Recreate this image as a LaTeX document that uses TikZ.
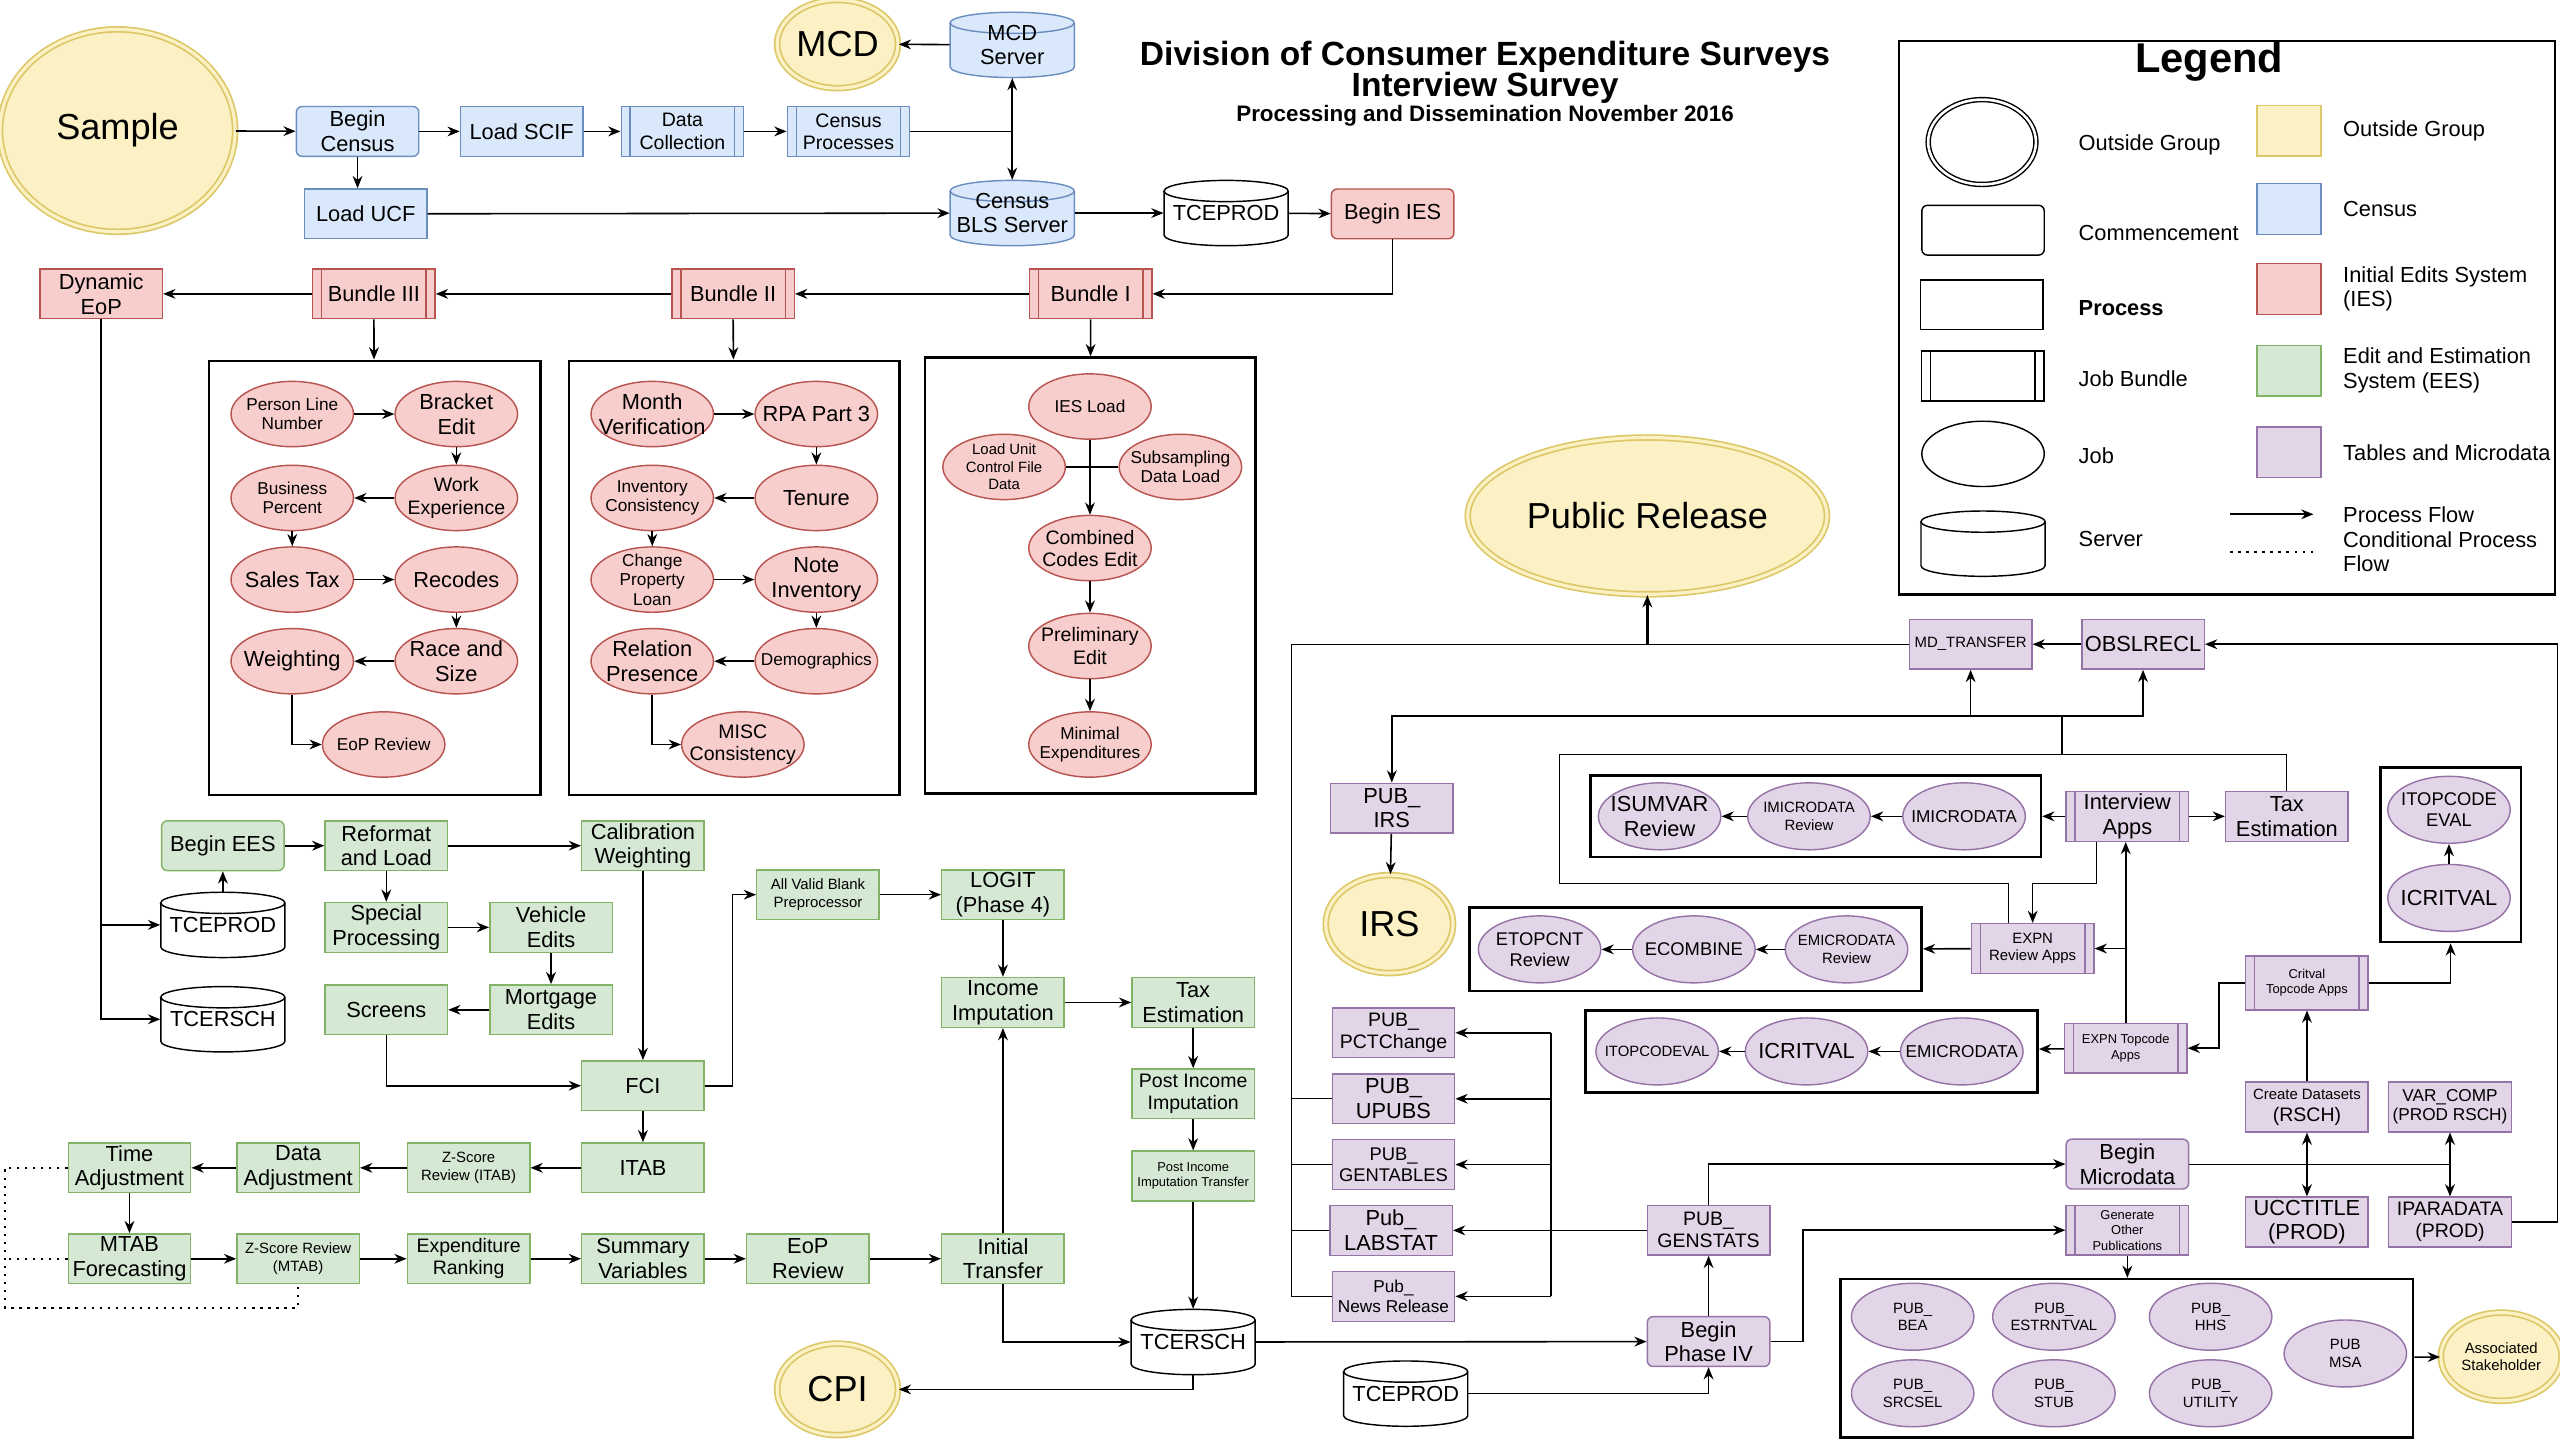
\documentclass[tikz,border=0pt]{standalone}
\usepackage{fontspec}
\setmainfont{Liberation Sans}
\usetikzlibrary{arrows.meta,shapes.geometric,calc}
\definecolor{fillout}{HTML}{FCF1C4}
\definecolor{lineout}{HTML}{DCC868}
\definecolor{fillcen}{HTML}{DAE8FC}
\definecolor{linecen}{HTML}{6C8EBF}
\definecolor{fillies}{HTML}{F8CECC}
\definecolor{lineies}{HTML}{B85450}
\definecolor{fillees}{HTML}{D5E8D4}
\definecolor{lineees}{HTML}{82B366}
\definecolor{fillpub}{HTML}{E1D5E7}
\definecolor{linepub}{HTML}{9673A6}
\newcommand{\fs}[2]{\fontsize{#1}{#2}\selectfont}
\tikzset{
  box/.style={rectangle, draw, line width=0.5pt, minimum width=15mm, minimum height=6.1mm, inner sep=0.4pt, align=center},
  start/.style={box, rounded corners=2pt},
  bndl/.style={box, path picture={\draw[#1, line width=0.5pt]
      ([xshift=1.1mm]path picture bounding box.north west) -- ([xshift=1.1mm]path picture bounding box.south west)
      ([xshift=-1.1mm]path picture bounding box.north east) -- ([xshift=-1.1mm]path picture bounding box.south east);}},
  job/.style={ellipse, draw, line width=0.5pt, minimum width=15mm, minimum height=8mm, inner xsep=-2mm, inner ysep=-2.5mm, align=center},
  outside/.style={ellipse, draw=lineout, double=fillout, double distance=1.1pt, line width=0.6pt, fill=fillout, inner sep=0pt, align=center},
  grp/.style={rectangle, draw, line width=0.9pt, inner sep=0pt},
  srvnode/.style={rectangle, minimum width=15.2mm, minimum height=8mm, inner sep=0pt, align=center},
  plain/.style={fill=white, draw=black},
  census/.style={fill=fillcen, draw=linecen},
  ies/.style={fill=fillies, draw=lineies},
  ees/.style={fill=fillees, draw=lineees},
  pub/.style={fill=fillpub, draw=linepub},
  flow/.style={-{Stealth[length=1.5mm,width=1.2mm]}, line width=0.55pt},
  cond/.style={dotted, line width=0.8pt},
  t8/.style={font=\fs{7.6}{8.6}},
  t7/.style={font=\fs{6.8}{7.7}},
  t65/.style={font=\fs{6.4}{7.2}},
  t6/.style={font=\fs{6}{6.8}},
  t5/.style={font=\fs{5.2}{6.1}},
  t4/.style={font=\fs{4.5}{5.4}},
  big/.style={font=\fs{12.6}{14}},
}
% server drawn as a cylinder behind a named node
\newcommand{\srv}[4]{%
  \path[#3, line width=0.5pt] ($(#2)+(-38,13.5)$) -- ($(#2)+(-38,-13.5)$)
    arc[start angle=180, end angle=360, x radius=7.6mm, y radius=1.3mm] -- ($(#2)+(38,13.5)$)
    arc[start angle=0, end angle=180, x radius=7.6mm, y radius=1.3mm] -- cycle;
  \draw[#3, fill=none, line width=0.5pt] ($(#2)+(-38,13.5)$) arc[start angle=180, end angle=360, x radius=7.6mm, y radius=1.3mm];
  \node[srvnode] (#1) at (#2) {#4};}

\begin{document}
\begin{tikzpicture}[x=0.2mm, y=0.2mm, t8]
  \useasboundingbox (0,0) rectangle (1568,-882);

  \node[font=\fs{11.7}{11}\bfseries, align=center] (title) at (909.6,-44.3) {Division of Consumer Expenditure Surveys\\Interview Survey};
  \node[font=\fs{7.8}{9}\bfseries] (subtitle) at (909.6,-71) {Processing and Dissemination November 2016};

  % census
  \node[outside, minimum width=28.8mm, minimum height=24.8mm, big] (sample) at (72,-80) {Sample};
  \node[start, census] (bcensus) at (219,-80.5) {Begin\\Census};
  \node[box, census] (scif) at (319.5,-80.5) {Load SCIF};
  \node[bndl=linecen, census, t7] (dcoll) at (418,-80.5) {Data\\Collection};
  \node[bndl=linecen, census, t7] (cproc) at (519.7,-80.5) {Census\\Processes};
  \node[outside, minimum width=14.8mm, minimum height=10.8mm, big] (mcd) at (513,-27) {MCD};
  \srv{mcds}{620,-27.5}{census}{MCD\\Server}
  \srv{blss}{620,-130.5}{census}{Census\\BLS Server}
  \node[box, census] (ucf) at (224,-131) {Load UCF};
  \srv{tcep1}{751,-130.5}{plain}{TCEPROD}
  \node[start, ies] (bies) at (853,-131) {Begin IES};

  % IES bundles
  \node[box, ies] (deop) at (62,-180) {Dynamic\\EoP};
  \node[bndl=lineies, ies] (b3) at (229,-180) {Bundle III};
  \node[bndl=lineies, ies] (b2) at (449,-180) {Bundle II};
  \node[bndl=lineies, ies] (b1) at (668,-180) {Bundle I};
  \node[grp, minimum width=40.6mm, minimum height=53.2mm] (g3) at (229.4,-354) {};
  \node[grp, minimum width=40.5mm, minimum height=53.2mm] (g2) at (449.8,-354) {};
  \node[grp, minimum width=40.5mm, minimum height=53.4mm] (g1) at (667.9,-352.5) {};
  \foreach \nm/\xx/\yy/\ft/\txt in {
      pln/179/253.6/t6/{Person Line\\Number}, brk/279.5/253.6/t8/{Bracket\\Edit},
      wexp/279.5/305/t7/{Work\\Experience}, bper/179/305/t6/{Business\\Percent},
      stax/179/355/t8/{Sales Tax}, rec/279.5/355/t8/{Recodes},
      race/279.5/405/t8/{Race and\\Size}, wgt/179/405/t8/{Weighting},
      eopr/235/456/t6/{EoP Review},
      month/399.5/253.6/t8/{Month\\Verification}, rpa/500/253.6/t8/{RPA Part 3},
      ten/500/305/t8/{Tenure}, invc/399.5/305/t6/{Inventory\\Consistency},
      cpl/399.5/355/t6/{Change\\Property\\Loan}, note/500/355/t8/{Note\\Inventory},
      demo/500/405/t6/{Demographics}, rel/399.5/405/t8/{Relation\\Presence},
      misc/455/456/t7/{MISC\\Consistency},
      iesl/667.6/249/t6/{IES Load}, lucf/615/286/t5/{Load Unit\\Control File\\Data},
      sub/723/286/t6/{Subsampling\\Data Load}, cce/667.6/335.7/t7/{Combined\\Codes Edit},
      pre/667.6/395.7/t7/{Preliminary\\Edit}, minx/667.6/456/t6/{Minimal\\Expenditures}}
    \node[job, ies, \ft] (\nm) at (\xx,-\yy) {\txt};

  % EES
  \node[start, ees] (bees) at (136.5,-518) {Begin EES};
  \srv{tcep2}{136.5,-566.5}{plain}{TCEPROD}
  \srv{tcer1}{136.5,-624.3}{plain}{TCERSCH}
  \foreach \nm/\xx/\yy/\ft/\txt in {
      ref/236.6/518/t8/{Reformat\\and Load}, cal/393.8/518/t8/{Calibration\\Weighting},
      spec/236.6/568/t8/{Special\\Processing}, veh/337.5/568/t8/{Vehicle\\Edits},
      mort/337.5/618.5/t8/{Mortgage\\Edits}, scr/236.6/618.5/t8/{Screens},
      fci/393.8/665/t8/{FCI}, itab/393.8/715.3/t8/{ITAB},
      zitab/287/715.3/t5/{Z-Score\\Review (ITAB)}, dadj/182.6/715.3/t8/{Data\\Adjustment},
      tadj/79.3/715.3/t8/{Time\\Adjustment}, mtab/79.3/771/t8/{MTAB\\Forecasting},
      zmtab/182.6/771/t5/{Z-Score Review\\(MTAB)}, exr/287/771/t7/{Expenditure\\Ranking},
      sumv/393.8/771/t8/{Summary\\Variables}, eoprv/494.8/771/t8/{EoP\\Review},
      itr/614.3/771/t8/{Initial\\Transfer}, avb/501/548/t5/{All Valid Blank\\Preprocessor},
      logit/614.3/548/t8/{LOGIT\\(Phase 4)}, inc/614.3/614/t8/{Income\\Imputation},
      taxg/730.8/614/t8/{Tax\\Estimation}, pii/730.8/670/t7/{Post Income\\Imputation},
      piit/730.8/720.3/t4/{Post Income\\Imputation Transfer}}
    \node[box, ees, \ft] (\nm) at (\xx,-\yy) {\txt};
  \srv{tcer2}{730.8,-822}{plain}{TCERSCH}
  \node[outside, minimum width=14.8mm, minimum height=11.2mm, big] (cpi) at (513,-851) {CPI};

  % tables and microdata
  \node[outside, minimum width=44mm, minimum height=19.2mm, big] (pubrel) at (1009,-316) {Public Release};
  \node[outside, minimum width=15.6mm, minimum height=12mm, big] (irs) at (851,-566) {IRS};
  \node[outside, minimum width=14.8mm, minimum height=10.8mm, t5] (assoc) at (1532,-831) {Associated\\Stakeholder};
  \node[grp, minimum width=55.2mm, minimum height=10mm] (ibox) at (1112,-500) {};
  \node[grp, minimum width=55.4mm, minimum height=10.2mm] (ebox) at (1038.5,-581.5) {};
  \node[grp, minimum width=55.4mm, minimum height=10mm] (tbox) at (1109.5,-644) {};
  \node[grp, minimum width=17.2mm, minimum height=21.4mm] (itbox) at (1501,-523.5) {};
  \node[grp, minimum width=70.1mm, minimum height=19.4mm] (pbox) at (1302.7,-832) {};
  \foreach \nm/\xx/\yy/\ft/\txt in {
      pct/853.5/632.6/t7/{PUB\_\\PCTChange}, upb/853.5/673/t8/{PUB\_\\UPUBS},
      gtb/853.5/713.3/t65/{PUB\_\\GENTABLES}, labs/852/753.6/t8/{Pub\_\\LABSTAT},
      nws/853.5/794/t6/{Pub\_\\News Release}, pirs/852.5/495/t8/{PUB\_\\IRS},
      mdt/1207/394.6/t5/{MD\_TRANSFER}, obs/1312.6/394.6/t8/{OBSLRECL},
      taxp/1400.7/500/t8/{Tax\\Estimation}, cds/1413/678/t7/{{\fs{5.2}{6.2}Create Datasets}\\(RSCH)},
      vcomp/1500.6/678/t6/{VAR\_COMP\\(PROD RSCH)}, ucc/1413/748.5/t8/{UCCTITLE\\(PROD)},
      ipd/1500.6/748.5/t7/{IPARADATA\\(PROD)}, gens/1046.5/753.5/t7/{PUB\_\\GENSTATS}}
    \node[box, pub, \ft] (\nm) at (\xx,-\yy) {\txt};
  \node[bndl=linepub, pub] (intv) at (1303,-500) {Interview\\Apps};
  \node[bndl=linepub, pub, t5] (expr) at (1245,-581) {EXPN\\Review Apps};
  \node[bndl=linepub, pub, t4] (expt) at (1302,-642) {EXPN Topcode\\Apps};
  \node[bndl=linepub, pub, t4, minimum height=6.6mm] (crit) at (1413,-602) {Critval\\Topcode Apps};
  \node[bndl=linepub, pub, t4] (gop) at (1303,-753.5) {Generate\\Other\\Publications};
  \node[start, pub] (bmic) at (1303,-713) {Begin\\Microdata};
  \node[start, pub] (bp4) at (1046.5,-821.7) {Begin\\Phase IV};
  \srv{tcep3}{861,-853.6}{plain}{TCEPROD}
  \foreach \nm/\xx/\yy/\ft/\txt in {
      isum/1016.5/500/t8/{ISUMVAR\\Review}, imdr/1108/500/t5/{IMICRODATA\\Review},
      imd/1203/500/t6/{IMICRODATA}, itev/1500/496/t65/{ITOPCODE\\EVAL},
      icr2/1500/550/t8/{ICRITVAL}, etop/943/581.5/t65/{ETOPCNT\\Review},
      ecomb/1037.5/581.5/t65/{ECOMBINE}, emdr/1131/581.5/t5/{EMICRODATA\\Review},
      itv/1015/644/t5/{ITOPCODEVAL}, icr1/1106.5/644/t8/{ICRITVAL},
      emd/1201.6/644/t6/{EMICRODATA},
      pbea/1171.5/806.5/t5/{PUB\_\\BEA}, pest/1258/806.5/t5/{PUB\_\\ESTRNTVAL},
      phhs/1354/806.5/t5/{PUB\_\\HHS}, pmsa/1436.5/829/t5/{PUB\\MSA},
      psrc/1171.5/853.4/t5/{PUB\_\\SRCSEL}, pstub/1258/853.4/t5/{PUB\_\\STUB},
      putil/1354/853.4/t5/{PUB\_\\UTILITY}}
    \node[job, pub, minimum height=8.2mm, \ft] (\nm) at (\xx,-\yy) {\txt};

  % straight flows
  \foreach \a/\b in {sample/bcensus, bcensus/scif, scif/dcoll, dcoll/cproc, mcds/mcd, ucf/blss,
      blss/tcep1, tcep1/bies, b1/b2, b2/b3, b3/deop, b3/g3, b2/g2, b1/g1,
      pln/brk, brk/wexp, wexp/bper, bper/stax, stax/rec, rec/race, race/wgt,
      month/rpa, rpa/ten, ten/invc, invc/cpl, cpl/note, note/demo, demo/rel,
      iesl/cce, cce/pre, pre/minx,
      tcep2/bees, bees/ref, ref/cal, ref/spec, spec/veh, veh/mort, mort/scr, cal/fci,
      fci/itab, itab/zitab, zitab/dadj, dadj/tadj, tadj/mtab, mtab/zmtab, zmtab/exr,
      exr/sumv, sumv/eoprv, eoprv/itr, itr/inc, avb/logit, logit/inc, inc/taxg,
      taxg/pii, pii/piit, piit/tcer2, tcer2/bp4,
      pirs/irs, obs/mdt, intv/taxp, intv/ibox, imd/imdr, imdr/isum, expr/ebox,
      emdr/ecomb, ecomb/etop, expt/tbox, emd/icr1, icr1/itv, icr2/itev, cds/crit,
      bp4/gens, pbox/assoc}
    \draw[flow] (\a) -- (\b);

  % routed flows
  \draw[flow] (bcensus) -- (bcensus |- ucf.north);
  \draw (cproc) -- (cproc -| mcds);
  \draw[flow] (cproc -| mcds) -- (mcds);
  \draw[flow] (cproc -| mcds) -- (blss);
  \draw[flow] (bies) |- (b1);
  \draw[flow] (deop) |- (tcep2);
  \draw[flow] (deop) |- (tcer1);
  \draw[flow] (wgt) |- (eopr);
  \draw[flow] (rel) |- (misc);
  \draw (lucf) -- (lucf -| iesl);
  \draw (sub) -- (sub -| iesl);
  \draw[flow] (scr) |- (fci);
  \draw[flow] (fci.east) -- ++(17,0) |- (avb);
  \draw[flow] (itr) |- (tcer2);
  \draw[flow] (tcer2) |- (cpi);
  \coordinate (dl) at (3,-801);
  \draw[cond] (tadj) -| (dl) -| (zmtab);
  \draw[cond] (mtab) -- (mtab -| dl);

  \draw[flow] (tcep3) -| (bp4);
  \draw[flow] (bp4.east) -- ++(20,0) |- (gop);
  \draw[flow] (gens) |- (bmic);
  \draw[flow] (gop) -- (gop |- pbox.north);
  \coordinate (pr) at (950,-632.6);
  \draw (gens) -- (gens -| pr);
  \draw (pr) -- (pr |- nws);
  \foreach \p in {pct,upb,gtb,labs,nws}
    \draw[flow] (pr |- \p) -- (\p);
  \coordinate (pl) at (791,-794);
  \draw (mdt) -| (pl);
  \foreach \p in {upb,gtb,labs,nws}
    \draw (\p) -- (\p -| pl);
  \draw[flow, line width=1.3pt] (mdt -| pubrel) -- (pubrel);
  \draw[flow] (ipd.east) -- ++(28,0) |- (obs);
  \draw (bmic) -- (bmic -| vcomp);
  \draw[flow] (bmic -| cds) -- (cds);
  \draw[flow] (bmic -| cds) -- (ucc);
  \draw[flow] (bmic -| vcomp) -- (vcomp);
  \draw[flow] (bmic -| vcomp) -- (ipd);
  \draw[flow] (crit.west) -- ++(-16,0) |- (expt);
  \draw[flow] (crit) -| (itbox);
  \draw[flow] (expt) -- (expt |- intv.south);
  \draw[flow] (expt |- expr) -- (expr);
  \draw[flow] ([xshift=-3.8mm]intv.south) -- ++(0,-25.5) -| (expr);
  \draw ([xshift=-3mm]expr.north) |- (955,-541) -- (955,-462) -| (taxp);
  \coordinate (hub) at (1263,-438.7);
  \draw (1263,-462) -- (hub);
  \draw[flow] (hub) -| (pirs);
  \draw[flow] (hub) -| (mdt);
  \draw[flow] (hub) -| (obs);

  % legend
  \node[grp, minimum width=80.4mm, minimum height=67.8mm] (lgbox) at (1364,-194.5) {};
  \node[font=\fs{14.5}{16}\bfseries] (lgtitle) at (1353,-38) {Legend};
  \node[ellipse, draw, double, double distance=0.9pt, line width=0.5pt, minimum width=13.2mm, minimum height=10.4mm] (lgout) at (1214,-87) {};
  \node[start] (lgcom) at (1214.6,-141) {};
  \node[box] (lgproc) at (1213.8,-186.7) {};
  \node[bndl=black] (lgbnd) at (1214.3,-230.3) {};
  \node[job] (lgjob) at (1214.6,-278) {};
  \srv{lgsrv}{1214.6,-333}{plain}{}
  \foreach \nm/\yy/\txt in {a/89/{Outside Group}, b/143/{Commencement}, c/188.6/{\bfseries Process},
      d/232/{Job Bundle}, e/279/{Job}, f/330/{Server}}
    \node[anchor=west] (lgt\nm) at (1267,-\yy) {\txt};
  \foreach \nm/\yy/\txt in {out/80/{Outside Group}, cen/128/{Census},
      ies/177/{Initial Edits System\\(IES)}, ees/227/{Edit and Estimation\\System (EES)},
      pub/277/{Tables and Microdata}}{
    \node[rectangle, draw=line\nm, fill=fill\nm, line width=0.5pt, minimum width=7.8mm, minimum height=6.2mm] (sw\nm) at (1402,-\yy) {};
    \node[anchor=west, align=left] (sl\nm) at (1429,-\yy) {\txt};
  }
  \draw[flow] (1366,-315) -- (1417,-315);
  \node[anchor=west] (lgpf) at (1429,-315) {Process Flow};
  \draw[cond] (1366,-338) -- (1417,-338);
  \node[anchor=west, align=left] (lgcf) at (1429,-338) {Conditional Process\\Flow};
\end{tikzpicture}
\end{document}
